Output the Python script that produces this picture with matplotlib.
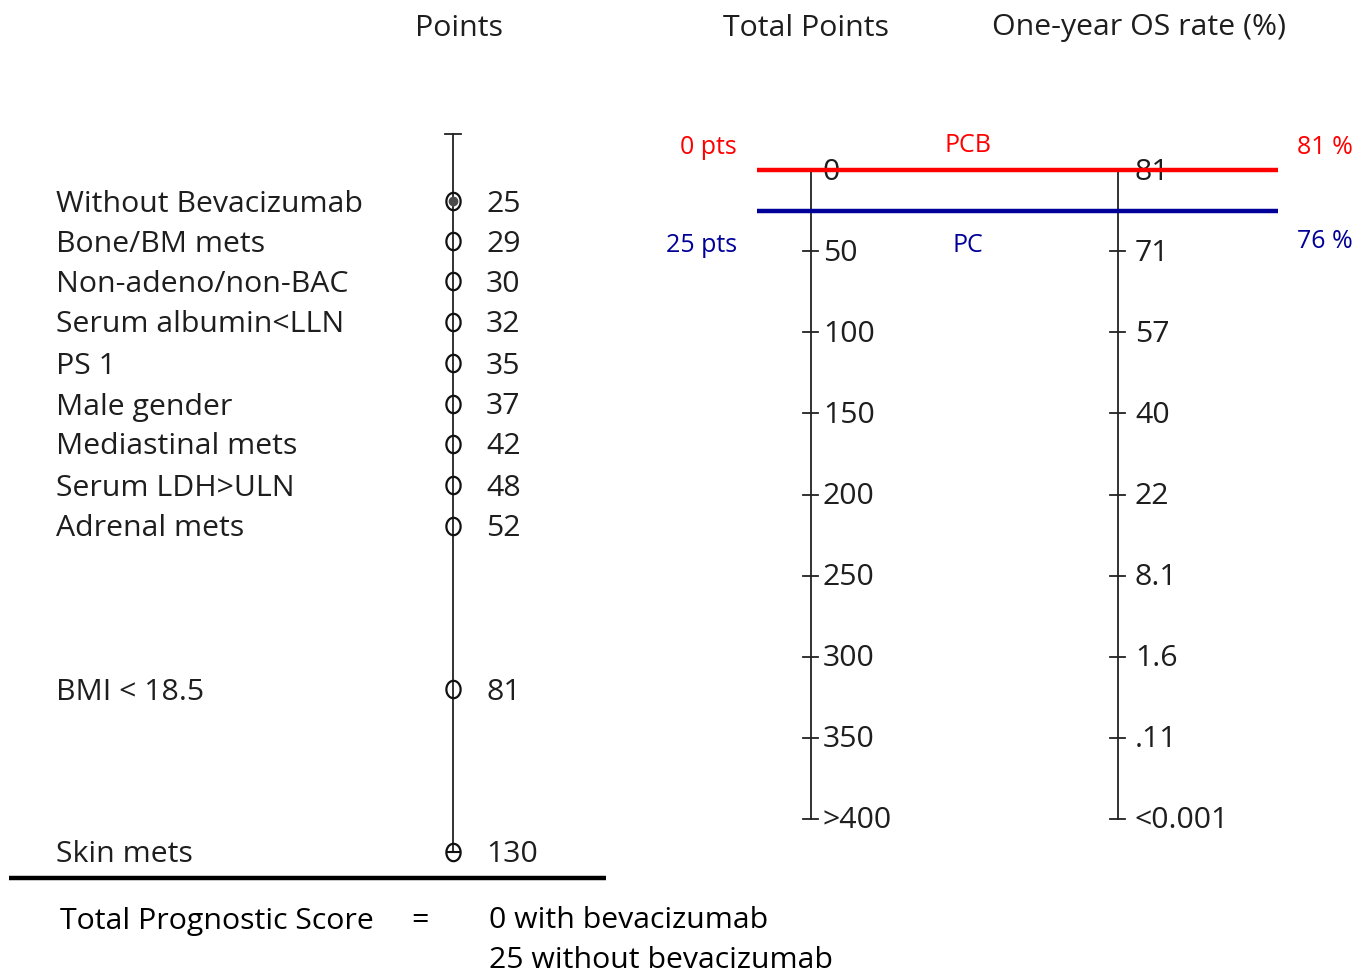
import matplotlib
matplotlib.use("Agg")
import numpy as np
import matplotlib.pyplot as plt
from matplotlib.path import Path
from matplotlib.transforms import offset_copy

plt.rcParams['font.family'] = ['Open Sans', 'DejaVu Sans']

# Risk factors and their points
factors = ["Without Bevacizumab", "Bone/BM mets", "Non-adeno/non-BAC",
           "Serum albumin<LLN", "PS 1", "Male gender", "Mediastinal mets",
           "Serum LDH>ULN", "Adrenal mets", "BMI < 18.5", "Skin mets"]
points = [25, 29, 30, 32, 35, 37, 42, 48, 52, 81, 130]

# Total points scale and the matching one-year OS rate (%)
total_ticks = [0, 50, 100, 150, 200, 250, 300, 350, 400]
total_labels = ["0", "50", "100", "150", "200", "250", "300", "350", ">400"]
os_labels = ["81", "71", "57", "40", "22", "8.1", "1.6", ".11", "<0.001"]

# Baselines: PCB (with bevacizumab) and PC (without)
base_pts = [0, 25]
base_os = [81, 76]
base_names = ["PCB", "PC"]
base_colors = ["#ff0000", "#000099"]

W, H = 1371, 977
fig = plt.figure(figsize=(W / 100, H / 100), dpi=100)

# Pixel-space canvas for the points panel and captions
ax = fig.add_axes([0, 0, 1, 1])
ax.set_xlim(0, W)
ax.set_ylim(H, 0)
ax.axis("off")

BIG = 21.8
SMALL = 18
txt = "#1e1e1e"
dy = 3  # small baseline nudge for centred text

ax.text(459, 25 + dy, "Points", ha="center", va="center", fontsize=BIG, color=txt)
ax.text(806, 25 + dy, "Total Points", ha="center", va="center", fontsize=BIG, color=txt)
ax.text(1139, 25 + dy, "One-year OS rate (%)", ha="center", va="center", fontsize=BIG, color=txt)

# Slightly upright ellipse marker
theta = np.linspace(0, 2 * np.pi, 60)
ellipse = Path(np.column_stack([0.82 * np.cos(theta), np.sin(theta)]))

# Points axis
axis_x = 453
row_y = [201, 241, 281, 322, 363, 404, 444, 485, 526, 689, 852]
ax.plot([axis_x, axis_x], [134, row_y[-1]], color="#222222", lw=1.3)
ax.plot([axis_x - 8, axis_x + 8], [134, 134], color="#222222", lw=1.3)

for i, (name, val) in enumerate(zip(factors, points)):
    y = row_y[i]
    ax.text(56, y + dy, name, ha="left", va="center", fontsize=BIG, color=txt)
    ax.text(486, y + dy, str(val), ha="left", va="center", fontsize=BIG, color=txt)
    ax.plot(axis_x, y, marker=ellipse, ms=12.5, mfc="none", mec="#111111",
            mew=1.6, ls="none")
    if i == 0:
        ax.plot(axis_x, y, marker="o", ms=6, mfc="#4a4a4a", mec="#4a4a4a",
                ls="none")
    if i == len(factors) - 1:
        ax.plot(axis_x, y, marker="_", ms=10, mec="#111111", mew=1.5, ls="none")

ax.plot([9, 606], [878, 878], color="black", lw=3.2, solid_capstyle="butt")
ax.text(60, 918 + dy, "Total Prognostic Score", ha="left", va="center", fontsize=BIG, color="black")
ax.text(420, 918 + dy, "=", ha="center", va="center", fontsize=BIG, color="black")
ax.text(489, 918 + dy, "0 with bevacizumab", ha="left", va="center", fontsize=BIG, color="black")
ax.text(489, 958 + dy, "25 without bevacizumab", ha="left", va="center", fontsize=BIG, color="black")

# Total points panel: y in total points
top_px, bot_px = 170, 819
ax2 = fig.add_axes([0, (H - bot_px) / H, 1, (bot_px - top_px) / H])
ax2.set_xlim(0, W)
ax2.set_ylim(total_ticks[-1], total_ticks[0])
ax2.axis("off")
ax2.patch.set_alpha(0)
lab_tr = offset_copy(ax2.transData, fig=fig, x=0, y=-2, units="dots")

for xx, labels, off in ((811, total_labels, 12), (1118, os_labels, 17)):
    ax2.plot([xx, xx], [total_ticks[0], total_ticks[-1]], color="#222222", lw=1.3,
             clip_on=False)
    for t, lab in zip(total_ticks, labels):
        ax2.plot([xx - 8, xx + 7], [t, t], color="#222222", lw=1.3, clip_on=False)
        ax2.text(xx + off, t, lab, ha="left", va="center", fontsize=BIG,
                 color=txt, clip_on=False, transform=lab_tr)

for p, c in zip(base_pts, base_colors):
    ax2.plot([757, 1278], [p, p], color=c, lw=3.2, solid_capstyle="butt",
             zorder=5, clip_on=False)

lab_y = [145, 243]
name_y = [143, 243]
os_y = [145, 239]
for i, (p, o, nm, c) in enumerate(zip(base_pts, base_os, base_names, base_colors)):
    ax.text(737, lab_y[i] + dy, f"{p} pts", ha="right", va="center", fontsize=SMALL, color=c)
    ax.text(968, name_y[i] + dy, nm, ha="center", va="center", fontsize=SMALL, color=c)
    ax.text(1297, os_y[i] + dy, f"{o} %", ha="left", va="center", fontsize=SMALL, color=c)

fig.savefig("out.png", dpi=100)
